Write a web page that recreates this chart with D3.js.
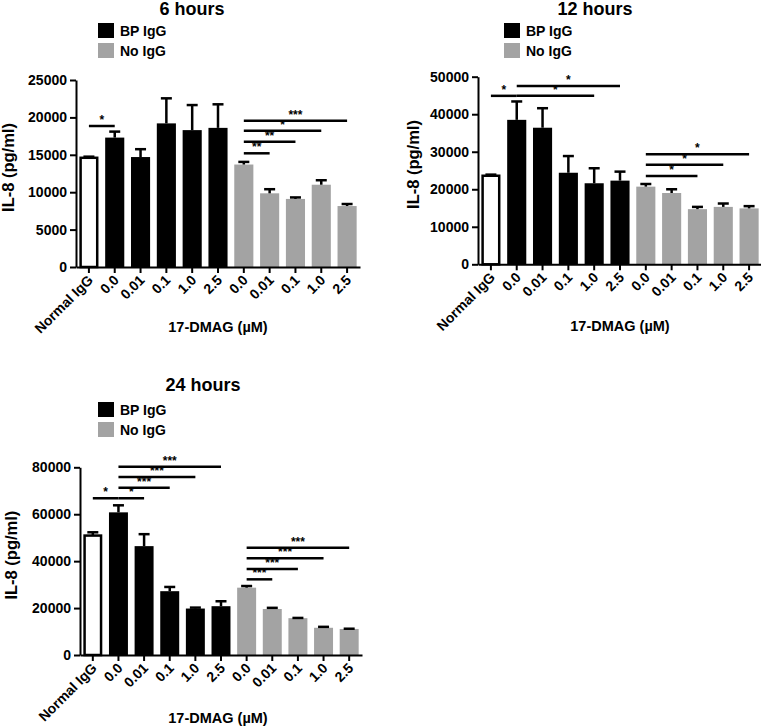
<!DOCTYPE html>
<html>
<head>
<meta charset="utf-8">
<script src="https://cdn.jsdelivr.net/npm/d3@7"></script>
<style>
  body { margin: 0; background: #fff; }
  text { font-family: "Liberation Sans", Arial, sans-serif; font-weight: bold; }
</style>
</head>
<body>
<svg id="chart" width="761" height="728"></svg>
<script>
const svg = d3.select('#chart');

// categories along the x axis (same for all three panels)
const tickLabels = ['Normal IgG', '0.0', '0.01', '0.1', '1.0', '2.5', '0.0', '0.01', '0.1', '1.0', '2.5'];
const groups = ['normal', 'bp', 'bp', 'bp', 'bp', 'bp', 'no', 'no', 'no', 'no', 'no'];
const legendLabels = ['BP IgG', 'No IgG'];

// 6 hours
const values6 = [14600, 17300, 14700, 19200, 18300, 18600, 13700, 9850, 9100, 11000, 8150];
const errors6 = [150, 800, 1050, 3350, 3350, 3150, 350, 550, 200, 600, 270];
const yTicks6 = [0, 5000, 10000, 15000, 20000, 25000];
// [from, to, y value, label]
const sig6 = [
  [0, 1, 18850, '*'],
  [6, 10, 19550, '***'],
  [6, 9, 18200, '*'],
  [6, 8, 16750, '**'],
  [6, 7, 15200, '**']
];

// 12 hours
const values12 = [23600, 38500, 36400, 24400, 21600, 22300, 20700, 19000, 14700, 15300, 14900];
const errors12 = [300, 4900, 5200, 4450, 4000, 2400, 700, 1000, 600, 900, 600];
const yTicks12 = [0, 10000, 20000, 30000, 40000, 50000];
const sig12 = [
  [0, 1, 44900, '*'],
  [1, 5, 47550, '*'],
  [1, 4, 44900, '*'],
  [6, 10, 29300, '*'],
  [6, 9, 26550, '*'],
  [6, 8, 23550, '*']
];

// 24 hours
const values24 = [50900, 60800, 46400, 27200, 19800, 20800, 28700, 19600, 15700, 11600, 11100];
const errors24 = [1400, 3000, 5100, 1800, 400, 2100, 700, 500, 100, 400, 100];
const yTicks24 = [0, 20000, 40000, 60000, 80000];
const sig24 = [
  [0, 1, 66800, '*'],
  [1, 2, 66800, '*'],
  [1, 3, 71300, '***'],
  [1, 4, 75850, '***'],
  [1, 5, 80250, '***'],
  [6, 7, 32250, '***'],
  [6, 8, 36650, '***'],
  [6, 9, 41200, '***'],
  [6, 10, 45700, '***']
];

const fills = { normal: '#fff', bp: '#000', no: '#a3a3a3' };

const drawPanel = (p) => {
  const g = svg.append('g');

  const xScale = d3.scaleBand()
    .domain(d3.range(tickLabels.length))
    .range([p.left, p.right])
    .paddingInner(0.26)
    .paddingOuter(0.13);

  const yScale = d3.scaleLinear()
    .domain([0, d3.max(p.yTicks)])
    .range([p.bottom, p.top]);

  // title
  g.append('text')
    .attr('x', p.titleX).attr('y', p.titleY)
    .attr('text-anchor', 'middle')
    .attr('font-size', '18px')
    .text(p.title);

  // legend
  legendLabels.forEach((lab, i) => {
    g.append('rect')
      .attr('x', p.legendX).attr('y', p.legendY + i * 20)
      .attr('width', 16).attr('height', 15)
      .attr('fill', i === 0 ? fills.bp : fills.no);
    g.append('text')
      .attr('x', p.legendX + 22).attr('y', p.legendY + i * 20 + 13)
      .attr('font-size', '14px')
      .text(lab);
  });

  // bars
  g.selectAll('rect.bar').data(p.values)
    .enter().append('rect')
    .attr('class', 'bar')
    .attr('x', (d, i) => xScale(i) + (groups[i] === 'normal' ? 1.25 : 0))
    .attr('y', d => yScale(d))
    .attr('width', (d, i) => xScale.bandwidth() - (groups[i] === 'normal' ? 2.5 : 0))
    .attr('height', d => yScale(0) - yScale(d))
    .attr('fill', (d, i) => fills[groups[i]])
    .attr('stroke', (d, i) => groups[i] === 'normal' ? '#000' : 'none')
    .attr('stroke-width', 2.5);

  // error bars (upper only)
  const cx = i => xScale(i) + xScale.bandwidth() / 2;
  p.values.forEach((v, i) => {
    const top = yScale(v + p.errors[i]);
    g.append('line')
      .attr('x1', cx(i)).attr('x2', cx(i))
      .attr('y1', yScale(v)).attr('y2', top)
      .attr('stroke', '#000').attr('stroke-width', 2.5);
    g.append('line')
      .attr('x1', cx(i) - 5.5).attr('x2', cx(i) + 5.5)
      .attr('y1', top).attr('y2', top)
      .attr('stroke', '#000').attr('stroke-width', 2.5);
  });

  // significance brackets
  p.sig.forEach(([a, b, v, lab]) => {
    g.append('line')
      .attr('x1', cx(a)).attr('x2', cx(b))
      .attr('y1', yScale(v)).attr('y2', yScale(v))
      .attr('stroke', '#000').attr('stroke-width', 2.5);
    g.append('text')
      .attr('x', (cx(a) + cx(b)) / 2).attr('y', yScale(v) - 2)
      .attr('text-anchor', 'middle')
      .attr('font-size', '12px')
      .text(lab);
  });

  // axes
  const yAxis = g.append('g')
    .attr('transform', `translate(${p.left}, 0)`)
    .call(d3.axisLeft(yScale).tickValues(p.yTicks).tickSize(6).tickSizeOuter(0).tickFormat(d3.format('d')));
  yAxis.selectAll('text').attr('font-size', '14px').attr('fill', '#000').attr('x', -9);

  const xAxis = g.append('g')
    .attr('transform', `translate(0, ${p.bottom})`)
    .call(d3.axisBottom(xScale).tickSize(6).tickSizeOuter(0).tickFormat(i => tickLabels[i]));
  xAxis.selectAll('text')
    .attr('font-size', '14px').attr('fill', '#000')
    .attr('text-anchor', 'end')
    .attr('dy', null).attr('y', 0).attr('x', 0)
    .attr('transform', 'translate(5, 14) rotate(-45)');

  [yAxis, xAxis].forEach(a => {
    a.select('.domain').attr('stroke', '#000').attr('stroke-width', 2);
    a.selectAll('.tick line').attr('stroke', '#000').attr('stroke-width', 2);
    a.attr('font-family', null);
  });

  // axis titles
  g.append('text')
    .attr('transform', `translate(${p.yLabelX}, ${(p.top + p.bottom) / 2 - 6}) rotate(-90)`)
    .attr('text-anchor', 'middle')
    .attr('font-size', '16.5px')
    .text('IL-8 (pg/ml)');
  g.append('text')
    .attr('x', p.xTitleX).attr('y', p.xTitleY)
    .attr('text-anchor', 'middle')
    .attr('font-size', '14.5px')
    .text('17-DMAG (\u00b5M)');
};

drawPanel({
  title: '6 hours', titleX: 192, titleY: 15,
  legendX: 98, legendY: 23,
  left: 76, right: 360, top: 80, bottom: 267,
  yLabelX: 14, xTitleX: 218, xTitleY: 332,
  values: values6, errors: errors6, yTicks: yTicks6, sig: sig6
});

drawPanel({
  title: '12 hours', titleX: 595, titleY: 15,
  legendX: 504, legendY: 23,
  left: 478, right: 762, top: 76.7, bottom: 264.3,
  yLabelX: 419, xTitleX: 620, xTitleY: 331,
  values: values12, errors: errors12, yTicks: yTicks12, sig: sig12
});

drawPanel({
  title: '24 hours', titleX: 203, titleY: 391,
  legendX: 98, legendY: 402,
  left: 80, right: 362, top: 467.3, bottom: 655,
  yLabelX: 17, xTitleX: 218, xTitleY: 723,
  values: values24, errors: errors24, yTicks: yTicks24, sig: sig24
});
</script>
</body>
</html>
